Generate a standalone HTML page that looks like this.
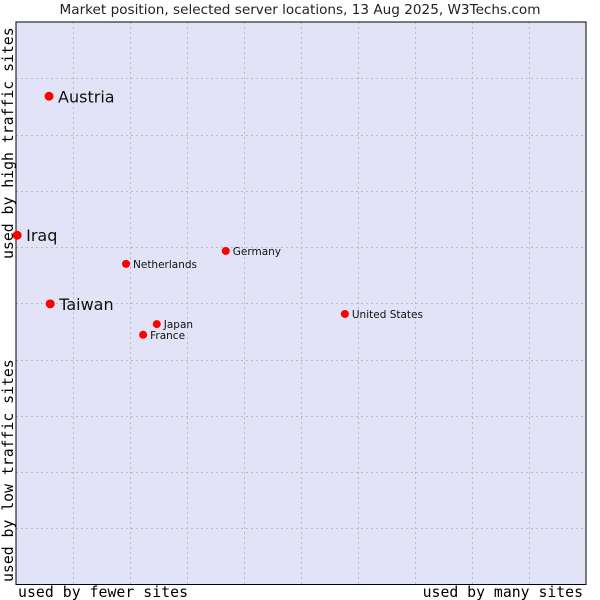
<!DOCTYPE html>
<html><head><meta charset="utf-8"><style>
body{margin:0;background:#fff;}
svg{display:block;}
</style></head><body>
<svg id="chart" width="600" height="600" xmlns="http://www.w3.org/2000/svg">
<rect x="0" y="0" width="600" height="600" fill="#fff"/>
<text x="300" y="14" text-anchor="middle" font-family="DejaVu Sans, sans-serif" font-size="13.6" fill="#222">Market position, selected server locations, 13 Aug 2025, W3Techs.com</text>
<rect x="16" y="22" width="570" height="562.5" fill="#e3e3f7"/>
<g id="grid"></g>
<rect x="16" y="22" width="570" height="562.5" fill="none" stroke="#000" stroke-width="1"/>
<g id="points"></g>
<text x="18" y="597" textLength="170" font-family="DejaVu Sans Mono, monospace" font-size="14.8" fill="#000">used by fewer sites</text>
<text x="583" y="597" text-anchor="end" font-family="DejaVu Sans Mono, monospace" font-size="14.8" fill="#000">used by many sites</text>
<text transform="translate(13,582) rotate(-90)" font-family="DejaVu Sans Mono, monospace" font-size="14.8" fill="#000">used by low traffic sites</text>
<text transform="translate(13,259) rotate(-90)" font-family="DejaVu Sans Mono, monospace" font-size="14.8" fill="#000">used by high traffic sites</text>
</svg>
<script>
const names = ["Austria","Iraq","Taiwan","Netherlands","Germany","Japan","France","United States"];
const xVals = [5.8,0.2,6.0,19.3,36.8,24.7,22.3,57.7];
const yVals = [86.8,62.1,49.9,57.0,59.3,46.3,44.4,48.1];
const big = [true,true,true,false,false,false,false,false];
const gridTicks = [1,2,3,4,5,6,7,8,9];
const NS="http://www.w3.org/2000/svg";
const X0=16,X1=586,Y0=584.5,Y1=22;
function sx(v){return X0+(X1-X0)*v/100;}
function sy(v){return Y0-(Y0-Y1)*v/100;}
const grid=document.getElementById('grid');
gridTicks.forEach(t=>{
  const v=document.createElementNS(NS,'line');
  v.setAttribute('x1',Math.round(sx(t*10))+0.5);v.setAttribute('x2',Math.round(sx(t*10))+0.5);
  v.setAttribute('y1',Y1);v.setAttribute('y2',Y0);
  v.setAttribute('stroke','#bcbcbc');v.setAttribute('stroke-dasharray','2,3');
  
  
  grid.appendChild(v);
  const h=document.createElementNS(NS,'line');
  h.setAttribute('y1',Math.round(sy(t*10))+0.5);h.setAttribute('y2',Math.round(sy(t*10))+0.5);
  h.setAttribute('x1',X0);h.setAttribute('x2',X1);
  h.setAttribute('stroke','#bcbcbc');h.setAttribute('stroke-dasharray','2,3');
  
  
  grid.appendChild(h);
});
const pts=document.getElementById('points');
names.forEach((n,i)=>{
  const x=sx(xVals[i]),y=sy(yVals[i]);
  const c=document.createElementNS(NS,'circle');
  c.setAttribute('cx',x);c.setAttribute('cy',y);c.setAttribute('r',big[i]?4.5:4);
  c.setAttribute('fill','#ff0000');
  
  
  pts.appendChild(c);
  const t=document.createElementNS(NS,'text');
  t.setAttribute('x',x+(big[i]?9:7));t.setAttribute('y',y+(big[i]?6:4));
  t.setAttribute('font-family','DejaVu Sans, sans-serif');
  t.setAttribute('font-size',big[i]?'16':'10.5');
  t.setAttribute('fill','#111');
  t.textContent=n;
  
  
  pts.appendChild(t);
});
</script>
</body></html>
